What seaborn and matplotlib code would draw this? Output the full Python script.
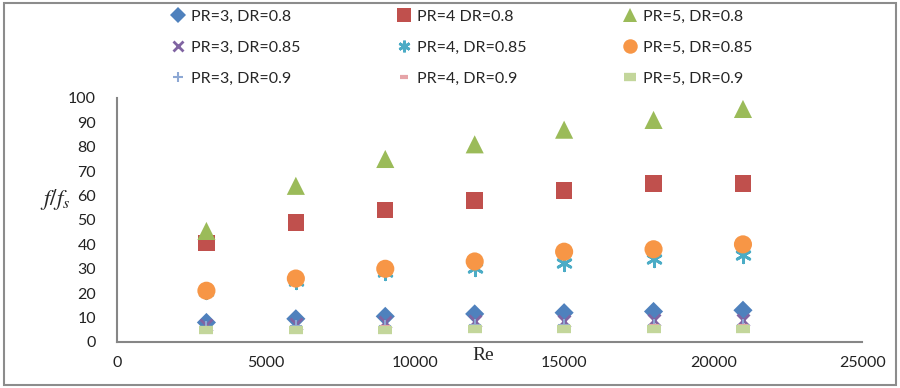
import matplotlib.pyplot as plt
import matplotlib.patches as mpatches
import seaborn as sns
import pandas as pd

# Re values (x axis)
re_vals = [3000, 6000, 9000, 12000, 15000, 18000, 21000]

# f/fs
pr3_dr080 = [8, 9.5, 10.5, 11.5, 12, 12.5, 13]
pr4_dr080 = [40.5, 49, 54, 58, 62, 65, 65]
pr5_dr080 = [45.5, 64, 75, 81, 87, 91, 95.5]
pr3_dr085 = [7, 7.5, 8, 8.5, 8.5, 9, 9]
pr4_dr085 = [21, 25, 28.5, 30.5, 32.5, 34, 35.5]
pr5_dr085 = [21, 26, 30, 33, 37, 38, 40]
pr3_dr090 = [6, 6.5, 6.5, 7, 7, 7, 7]
pr4_dr090 = [5.5, 5.5, 6, 6, 6, 6.5, 6.5]
pr5_dr090 = [5, 5, 5, 5.5, 5.5, 5.5, 5.5]

labels = ["PR=3, DR=0.8", "PR=4 DR=0.8", "PR=5, DR=0.8",
          "PR=3, DR=0.85", "PR=4, DR=0.85", "PR=5, DR=0.85",
          "PR=3, DR=0.9", "PR=4, DR=0.9", "PR=5, DR=0.9"]
series = [pr3_dr080, pr4_dr080, pr5_dr080,
          pr3_dr085, pr4_dr085, pr5_dr085,
          pr3_dr090, pr4_dr090, pr5_dr090]

# marker, colour, size, edge width
styles = [("D", "#4F81BD", 95, 0),
          ("s", "#C0504D", 140, 0),
          ("^", "#9BBB59", 170, 0),
          ("x", "#8064A2", 75, 2.0),
          ((6, 2, 0), "#4BACC6", 110, 2.0),
          ("o", "#F79646", 170, 0),
          ("+", "#8DA8D4", 70, 1.5),
          ("_", "#E6A4A8", 50, 3),
          ("_", "#C3D69B", 110, 6)]

sns.set_style("white")
plt.rcParams['font.family'] = ['Lato', 'DejaVu Sans']
plt.rcParams['mathtext.fontset'] = 'stix'

fig = plt.figure(figsize=(9, 3.88), dpi=100)
ax = fig.add_axes([0.13, 0.1186, 0.828, 0.6289])

grey = "#868686"
handles = []
for lab, vals, (mk, col, sz, lw) in zip(labels, series, styles):
    df = pd.DataFrame({"Re": re_vals, "ratio": vals})
    if lw == 0:
        sns.scatterplot(data=df, x="Re", y="ratio", marker=mk, color=col,
                        s=sz, edgecolor="none", ax=ax, zorder=3)
    else:
        sns.scatterplot(data=df, x="Re", y="ratio", marker=mk, color=col,
                        s=sz, linewidth=lw, ax=ax, zorder=3)
    handles.append(plt.Line2D([], [], linestyle="none", marker=mk, color=col,
                              markersize=(sz ** 0.5) * 0.8,
                              markeredgewidth=lw if lw else 0))

ax.set_xlim(0, 25000)
ax.set_ylim(0, 100)
ax.set_xticks(range(0, 25001, 5000))
ax.set_yticks(range(0, 101, 10))
ax.set_xlabel("")
ax.set_ylabel("")
ax.tick_params(axis="both", direction="out", length=5, width=1.2, color=grey,
               labelsize=11.5, labelcolor="#222222")
ax.tick_params(axis="x", pad=5)
ax.tick_params(axis="y", pad=10)
for side in ["top", "right"]:
    ax.spines[side].set_visible(False)
for side in ["left", "bottom"]:
    ax.spines[side].set_color(grey)
    ax.spines[side].set_linewidth(1.5)

fig.text(0.045, 0.485, r"$f/f_s$", fontsize=16.5, ha="left", va="center")
fig.text(0.537, 0.083, "Re", family="Liberation Serif", fontsize=14,
         ha="center", va="center")

# legend rows in reading order (matplotlib fills columns first)
order = [0, 3, 6, 1, 4, 7, 2, 5, 8]
fig.legend([handles[i] for i in order], [labels[i] for i in order],
           ncol=3, loc="upper left", bbox_to_anchor=(0.178, 1.0),
           frameon=False, fontsize=11.5, handlelength=1.0, handletextpad=0.3,
           columnspacing=6.0, labelspacing=1.05, borderaxespad=0.2)

fig.patches.append(mpatches.Rectangle((0.004, 0.008), 0.992, 0.984,
                                      transform=fig.transFigure, fill=False,
                                      edgecolor="#8c8c8c", linewidth=1.5))

fig.savefig("out.png", dpi=100)
